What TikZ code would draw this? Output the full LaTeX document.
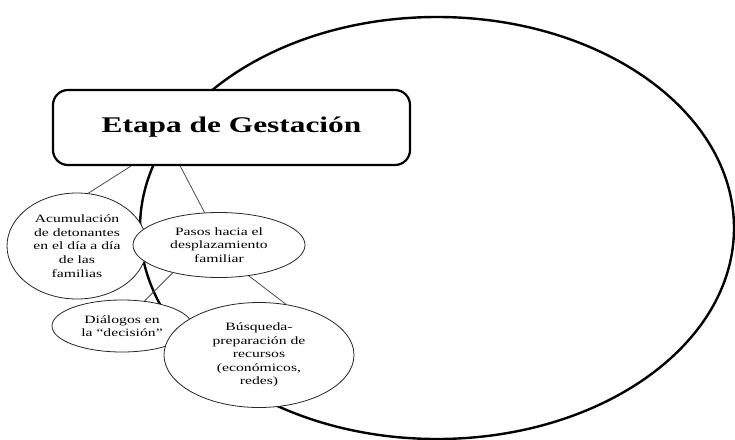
\documentclass[tikz,border=0pt]{standalone}
\usepackage{fontspec}
\setmainfont{Liberation Serif}
\newfontfamily\widefont[FakeStretch=1.4]{Liberation Serif}
\usetikzlibrary{shapes.geometric,backgrounds}

\begin{document}
\begin{tikzpicture}[x=1pt,y=-1pt,
    bubble/.style={ellipse,draw=black!85,line width=0.8pt,fill=white,inner sep=0pt,align=center,
      font=\widefont\fontsize{11.2}{13.6}\selectfont},
    link/.style={draw=black!70,line width=0.8pt}]
  \useasboundingbox (0,0) rectangle (735,439);
  \clip (0,0) rectangle (735,439);
  % title
  \node[draw,line width=2.2pt,rounded corners=15pt,fill=white,minimum width=357pt,minimum height=75pt,
    font=\widefont\bfseries\fontsize{22.4}{27}\selectfont] (gest) at (231.5,127.5) {Etapa de Gestación};
  % bubbles
  \node[bubble,minimum width=140pt,minimum height=106pt] (acum) at (77,246)
    {Acumulación\\de detonantes\\en el día a día\\de las\\familias};
  \node[bubble,minimum width=172pt,minimum height=65pt] (pasos) at (219,245)
    {Pasos hacia el\\desplazamiento\\familiar};
  \node[bubble,minimum width=140pt,minimum height=52pt] (dialog) at (122,326)
    {Diálogos en\\la “decisión”};
  \node[bubble,minimum width=190pt,minimum height=105pt] (busq) at (259,355)
    {Búsqueda-\\preparación de\\recursos\\(económicos,\\redes)};
  \begin{scope}[on background layer]
    \draw[line width=2.4pt] (437,228) ellipse [x radius=297pt,y radius=211pt];
    \draw[link] (gest.201) -- (acum.78);
    \draw[link] (gest.217) -- (pasos.114);
    \draw[link] (pasos.211) -- (dialog.48);
    \draw[link] (pasos.314) -- (busq.62);
  \end{scope}
\end{tikzpicture}
\end{document}
